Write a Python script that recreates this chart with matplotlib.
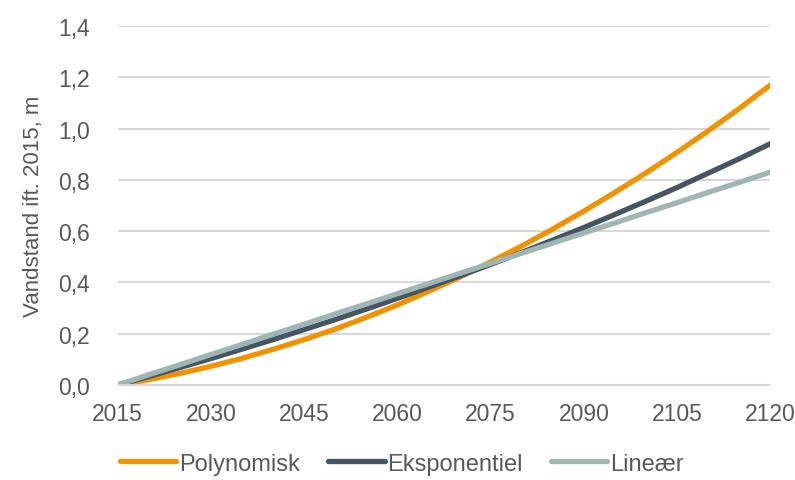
import numpy as np
import matplotlib.pyplot as plt
from matplotlib.ticker import FuncFormatter

# data (5-year steps)
years = list(range(2015, 2121, 5))
polynomisk = [0.000, 0.021, 0.045, 0.073, 0.104, 0.139, 0.177, 0.218, 0.264, 0.312, 0.365,
              0.420, 0.480, 0.542, 0.608, 0.678, 0.751, 0.827, 0.907, 0.991, 1.078, 1.170]
eksponentiel = [0.000, 0.033, 0.068, 0.103, 0.140, 0.177, 0.216, 0.255, 0.296, 0.338, 0.381,
                0.425, 0.470, 0.517, 0.565, 0.614, 0.665, 0.717, 0.770, 0.826, 0.882, 0.941]
lineaer = [0.000, 0.040, 0.079, 0.119, 0.158, 0.198, 0.237, 0.277, 0.316, 0.356, 0.395,
           0.435, 0.474, 0.514, 0.553, 0.593, 0.632, 0.672, 0.711, 0.751, 0.790, 0.830]
x_ticks = list(range(2015, 2121, 15))
y_ticks = [0.0, 0.2, 0.4, 0.6, 0.8, 1.0, 1.2, 1.4]

plt.rcParams['font.family'] = ['Liberation Sans', 'DejaVu Sans']
text_col = '#595959'

fig = plt.figure(figsize=(7.95, 4.81), dpi=100)
ax = fig.add_axes([0.148, 0.1975, 0.821, 0.7465])

ax.plot(years, polynomisk, color='#F39200', lw=3.8, label='Polynomisk', solid_capstyle='round')
ax.plot(years, eksponentiel, color='#465563', lw=3.8, label='Eksponentiel', solid_capstyle='round')
ax.plot(years, lineaer, color='#9FB6B5', lw=3.8, label='Lineær', solid_capstyle='round')

ax.set_xlim(2015, 2120)
ax.set_ylim(0, 1.4)
ax.set_xticks(x_ticks)
ax.set_yticks(y_ticks)
ax.yaxis.set_major_formatter(FuncFormatter(lambda v, p: f"{v:.1f}".replace('.', ',')))
ax.grid(axis='y', color='#D9D9D9', lw=1.5, zorder=0)
ax.set_axisbelow(True)
for s in ['top', 'right', 'left']:
    ax.spines[s].set_visible(False)
ax.spines['bottom'].set_color('#D9D9D9')
ax.spines['bottom'].set_linewidth(1.5)
ax.tick_params(length=0, labelsize=16.5, colors=text_col, pad=20)
ax.tick_params(axis='x', pad=12)
ax.set_ylabel('Vandstand ift. 2015, m', fontsize=16, color=text_col, labelpad=10)

fig.legend(loc='center', bbox_to_anchor=(0.505, 0.034), ncol=3, frameon=False,
           fontsize=17, labelcolor=text_col, handlelength=2.4, handletextpad=0.1,
           columnspacing=1.2)

plt.savefig('out.png', dpi=100)
